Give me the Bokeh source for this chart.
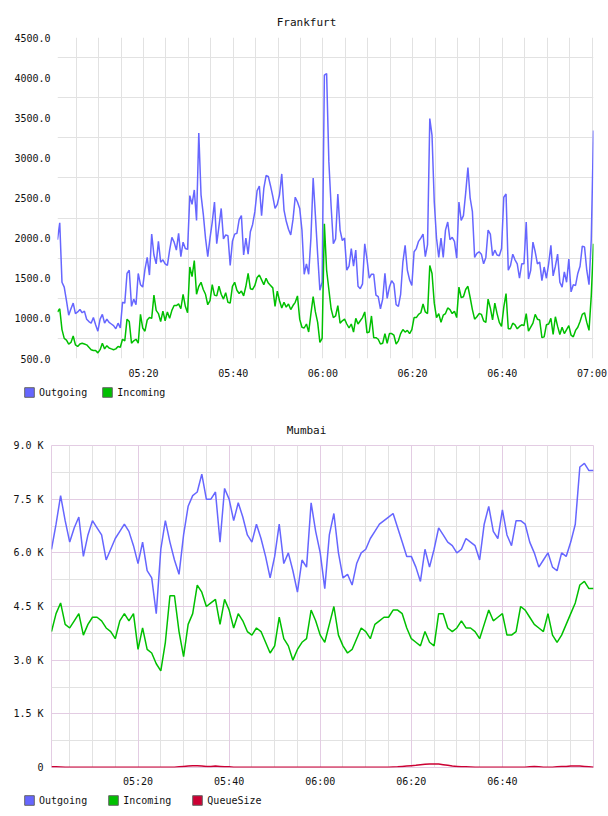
import pandas as pd
from bokeh.plotting import figure
from bokeh.models import (Range1d, FixedTicker, Grid, Legend, LegendItem,
                          DatetimeTickFormatter, NumeralTickFormatter,
                          CustomJSTickFormatter, ColumnDataSource)
from bokeh.embed import file_html
from bokeh.resources import INLINE

FONT = "DejaVu Sans Mono"
DAY = "2015-01-01 "

# ---------------- data ----------------
fra_start = DAY + "05:00:50"   # samples every 30 s
fra_outgoing = [
    1980, 2190, 1450, 1390, 1220, 1040, 1120, 1190, 1060, 1080,
    1110, 1070, 1090, 990, 960, 940, 1010, 920, 840, 990,
    1050, 940, 990, 950, 930, 910, 870, 940, 880, 1200,
    1190, 1560, 1600, 1150, 1240, 1170, 1560, 1420, 1390, 1610,
    1760, 1540, 2050, 1790, 1680, 1960, 1700, 1730, 1680, 1660,
    1850, 2010, 1950, 1850, 2060, 1770, 1950, 1870, 1860, 2530,
    2420, 2600, 2220, 3310, 2540, 2300, 2000, 1770, 2000, 2200,
    2450, 1930, 2150, 2370, 1990, 2040, 2030, 1660, 1960, 2050,
    2060, 2230, 2280, 1790, 2000, 1800, 2080, 2170, 2330, 2590,
    2650, 2280, 2620, 2780, 2770, 2650, 2520, 2370, 2420, 2540,
    2800, 2350, 2210, 2110, 2040, 2230, 2510, 2450, 2370, 2100,
    1550, 1680, 1550, 2000, 2750, 2280, 1800, 1350, 1450,
    4030, 4050, 2950, 2400, 1930, 1990, 2550, 2100, 1970, 2000,
    1600, 1650, 1870, 1650, 1850, 1400, 1370, 1430, 1930, 1740,
    1500, 1550, 1550, 1290, 1270, 1120, 1240, 1560, 1250, 1390,
    1470, 1430, 1170, 1150, 1300, 1700, 1910, 1600, 1480, 1410,
    1830, 1870, 1960, 2000, 2050, 1770, 1920, 3490, 3280, 2450,
    2000, 1760, 2000, 1760, 2100, 2200, 1980, 2010, 1960, 1750,
    2450, 2220, 2280, 2560, 2880, 2500, 2330, 1760, 1810, 1830,
    1800, 1680, 1760, 2100, 2050, 1780, 1850, 1790, 1780, 1870,
    2510, 2550, 1600, 1660, 1800, 1730, 1680, 1500, 1680, 1680,
    2200, 1490, 1600, 1950, 1830, 1680, 1700, 1470, 1640, 1500,
    1680, 1910, 1530, 1650, 1800, 1450, 1390, 1580, 1450, 1740,
    1330, 1420, 1410, 1560, 1650, 1900, 1890, 1600, 1420, 1980,
    3340,
]
fra_incoming = [
    1080, 1120, 860, 750, 730, 680, 700, 780, 670, 650,
    680, 690, 680, 670, 640, 610, 600, 600, 570, 610,
    690, 620, 660, 630, 620, 610, 620, 650, 640, 740,
    720, 990, 960, 690, 720, 740, 690, 1050, 880, 840,
    980, 1010, 1000, 1290, 1100, 1060, 960, 1090, 970, 1080,
    1000, 1100, 1160, 1160, 1180, 1120, 1300, 1150, 1070, 1640,
    1520, 1720, 1300, 1400, 1450, 1360, 1300, 1170, 1220, 1420,
    1290, 1280, 1400, 1300, 1240, 1320, 1200, 1190, 1400, 1450,
    1350, 1310, 1340, 1280, 1400, 1560, 1370, 1360, 1410, 1510,
    1540, 1480, 1420, 1500, 1440, 1410, 1380, 1150, 1340, 1220,
    1130, 1200, 1140, 1180, 1110, 1160, 1200, 1280, 990, 890,
    880, 930, 830, 1060, 1270, 1080, 950, 700, 750,
    2180, 1600, 1360, 1120, 1010, 1030, 1160, 940, 970, 990,
    930, 880, 930, 830, 1000, 930, 970, 1010, 1080, 820,
    830, 1030, 760, 760, 740, 680, 690, 810, 690, 810,
    810, 790, 680, 720, 810, 860, 830, 850, 810, 860,
    1010, 1010, 1050, 1070, 1180, 1080, 1060, 1660, 1560, 1190,
    1010, 1060, 950, 1040, 1060, 1130, 1110, 1060, 1090, 1010,
    1390, 1260, 1270, 1360, 1400, 1260, 1110, 990, 1020, 1060,
    1050, 970, 950, 1240, 1130, 980, 1190, 1060, 950, 900,
    1140, 1310, 870, 870, 940, 920, 870, 900, 920, 910,
    1060, 840, 890, 940, 1050, 990, 980, 760, 770, 920,
    930, 1000, 800, 1020, 900, 800, 890, 810, 860, 910,
    790, 770, 850, 890, 960, 1050, 1070, 950, 850, 1280,
    1930,
]

mum_start = DAY + "05:01:00"   # samples every minute
mum_outgoing = [
    6100, 6800, 7600, 6900, 6300, 6700, 7000, 5900, 6500, 6900,
    6700, 6500, 5800, 6100, 6400, 6600, 6800, 6600, 6200, 5700,
    6300, 5500, 5300, 4300, 6100, 6900, 6300, 5800, 5400, 6500,
    7300, 7600, 7700, 8200, 7500, 7500, 7700, 6300, 7800, 7500,
    6900, 7400, 7000, 6500, 6300, 6800, 6400, 5900, 5300, 5900,
    6800, 5700, 6000, 5500, 4900, 5800, 5600, 7400, 6600, 6000,
    5000, 6500, 7100, 6000, 5300, 5400, 5100, 5700, 6000, 6100,
    6400, 6600, 6800, 6900, 7000, 7100, 6700, 6300, 5900, 5900,
    5600, 5200, 6100, 5600, 6100, 6700, 6500, 6300, 6200, 6000,
    6100, 6400, 6300, 6200, 5800, 6800, 7300, 6600, 6400, 7200,
    6500, 6200, 6900, 6900, 6800, 6300, 6000, 5600, 5800, 6000,
    5600, 5500, 6000, 5900, 6300, 6800, 8400, 8500, 8300, 8300,
]
mum_incoming = [
    3800, 4300, 4600, 4000, 3900, 4100, 4300, 3700, 4000, 4200,
    4200, 4100, 3900, 3800, 3600, 4100, 4300, 4100, 4300, 3300,
    3900, 3300, 3200, 2900, 2700, 3500, 4800, 4800, 3800, 3100,
    4000, 4300, 5100, 4900, 4500, 4600, 4700, 4000, 4700, 4400,
    3900, 4300, 4100, 3800, 3700, 3900, 3800, 3500, 3200, 3400,
    4200, 3600, 3400, 3000, 3300, 3500, 3600, 4400, 4100, 3700,
    3500, 4000, 4500, 3700, 3400, 3200, 3300, 3600, 3900, 3800,
    3600, 4000, 4100, 4200, 4200, 4400, 4400, 4300, 3900, 3600,
    3500, 3400, 3800, 3500, 3400, 4300, 4300, 3900, 3800, 3900,
    4100, 3900, 3900, 3800, 3600, 4000, 4400, 4100, 4200, 4300,
    3700, 3700, 3800, 4500, 4400, 4200, 4000, 3900, 3800, 4300,
    3700, 3500, 3700, 4000, 4300, 4600, 5100, 5200, 5000, 5000,
]
mum_queue = [
    20, 20, 15, 10, 10, 10, 5, 5, 10, 10,
    5, 5, 5, 10, 10, 5, 5, 5, 10, 5,
    5, 5, 10, 10, 5, 5, 10, 10, 20, 30,
    40, 50, 50, 40, 30, 30, 40, 30, 20, 20,
    10, 10, 5, 5, 5, 5, 5, 5, 5, 5,
    5, 5, 5, 5, 5, 5, 5, 5, 5, 5,
    5, 5, 5, 5, 5, 5, 5, 5, 5, 5,
    5, 5, 5, 10, 10, 15, 20, 30, 40, 50,
    60, 75, 90, 100, 100, 95, 80, 60, 40, 30,
    20, 20, 15, 10, 10, 5, 5, 5, 5, 5,
    5, 5, 5, 5, 10, 20, 30, 20, 10, 10,
    10, 20, 30, 30, 40, 40, 40, 30, 20, 10,
]

fra_yticks = [500, 1000, 1500, 2000, 2500, 3000, 3500, 4000, 4500]
mum_yticks = [0, 1500, 3000, 4500, 6000, 7500, 9000]
fra_time_labels = ["05:20", "05:40", "06:00", "06:20", "06:40", "07:00"]
mum_time_labels = ["05:20", "05:40", "06:00", "06:20", "06:40"]

C_OUT = "#6666ff"
C_IN = "#00c000"
C_Q = "#cc0033"
GRID = "#e2e2e2"
PURPLE = "#e3cce3"


def ms(label):
    return pd.Timestamp(DAY + label).value / 1e6


def minute_grid(step_min, first, last):
    return [t.value / 1e6 for t in pd.date_range(DAY + first, DAY + last, freq=f"{step_min}min")]


def style_axes(p, standoff_x, standoff_y):
    for ax in (p.xaxis, p.yaxis):
        ax.axis_line_color = None
        ax.major_tick_line_color = None
        ax.minor_tick_line_color = None
        ax.major_tick_out = 0
        ax.major_tick_in = 0
        ax.major_label_text_font = FONT
        ax.major_label_text_font_size = "10px"
        ax.major_label_text_color = "#111111"
    p.xaxis.major_label_standoff = standoff_x
    p.yaxis.major_label_standoff = standoff_y


def style_title(p, text, frame_left):
    p.title.text = text
    p.title.align = "left"
    p.title.text_font = FONT
    p.title.text_font_size = "11px"
    p.title.text_font_style = "normal"
    p.title.text_color = "#111111"
    p.title.standoff = 17
    width = len(text) * 0.602 * 11
    p.title.offset = 306 - frame_left - width / 2


def legend_strip(entries, height, y0, x0, spacing):
    q = figure(width=608, height=height, output_backend="svg", toolbar_location=None,
               min_border=0, x_axis_location=None, y_axis_location=None,
               x_range=Range1d(0, 1), y_range=Range1d(0, 1))
    q.outline_line_color = None
    q.grid.visible = False
    items = []
    for name, col in entries:
        # swatch-only renderer: its one box lies outside the visible range
        r = q.quad(left=[5], right=[6], top=[6], bottom=[5], fill_color=col,
                   line_color="#666666", line_width=1)
        items.append(LegendItem(label=name, renderers=[r]))
    lg = Legend(items=items, orientation="horizontal", location=(x0, y0),
                border_line_color=None, background_fill_alpha=0,
                padding=0, margin=0, glyph_width=12, glyph_height=12,
                label_height=12, label_standoff=4, spacing=spacing,
                label_text_font=FONT, label_text_font_size="10px",
                label_text_color="#111111")
    q.add_layout(lg)
    return q


time_fmt = DatetimeTickFormatter(seconds="%H:%M", minsec="%H:%M", minutes="%H:%M",
                                 hourmin="%H:%M", hours="%H:%M")

# ---------------- Frankfurt ----------------
fra_t = pd.date_range(fra_start, periods=len(fra_outgoing), freq="30s")
src1 = ColumnDataSource(dict(t=fra_t, out=fra_outgoing, inc=fra_incoming))
p1 = figure(width=608, height=382, x_axis_type="datetime", output_backend="svg",
            toolbar_location=None, min_border_left=57, min_border_right=15,
            min_border_top=37, min_border_bottom=24,
            x_range=Range1d(fra_t[0], fra_t[-1]), y_range=Range1d(500, 4500))
p1.outline_line_color = None
p1.xaxis.ticker = FixedTicker(ticks=[ms(s) for s in fra_time_labels])
p1.xaxis.formatter = time_fmt
p1.yaxis.ticker = FixedTicker(ticks=fra_yticks)
p1.yaxis.formatter = NumeralTickFormatter(format="0.0")
p1.xgrid.ticker = FixedTicker(ticks=minute_grid(5, "05:05", "07:00"))
p1.ygrid.ticker = FixedTicker(ticks=[v + 250 for v in fra_yticks[:-1]])
p1.grid.grid_line_color = GRID
style_axes(p1, 9, 7)
style_title(p1, "Frankfurt", 57)
p1.line("t", "out", source=src1, color=C_OUT, line_width=1.5)
p1.line("t", "inc", source=src1, color=C_IN, line_width=1.5)
leg1 = legend_strip([("Outgoing", C_OUT), ("Incoming", C_IN)], 26, 10, 23, 14)

# ---------------- Mumbai ----------------
mum_t = pd.date_range(mum_start, periods=len(mum_outgoing), freq="1min")
src2 = ColumnDataSource(dict(t=mum_t, out=mum_outgoing, inc=mum_incoming, q=mum_queue))
p2 = figure(width=608, height=383, x_axis_type="datetime", output_backend="svg",
            toolbar_location=None, min_border_left=51, min_border_right=15,
            min_border_top=37, min_border_bottom=24,
            x_range=Range1d(mum_t[0], mum_t[-1]), y_range=Range1d(0, 9000))
p2.outline_line_color = PURPLE
p2.outline_line_width = 1
major_x = [ms(s) for s in mum_time_labels]
p2.xaxis.ticker = FixedTicker(ticks=major_x)
p2.xaxis.formatter = time_fmt
p2.yaxis.ticker = FixedTicker(ticks=mum_yticks)
p2.yaxis.formatter = CustomJSTickFormatter(
    code="return tick == 0 ? '0' : (tick / 1000).toFixed(1) + ' K';")
p2.xgrid.ticker = FixedTicker(ticks=[t for t in minute_grid(5, "05:05", "06:55") if t not in major_x])
p2.ygrid.ticker = FixedTicker(ticks=[v + 750 for v in mum_yticks[:-1]])
p2.grid.grid_line_color = GRID
p2.add_layout(Grid(dimension=0, ticker=FixedTicker(ticks=major_x), grid_line_color=PURPLE))
p2.add_layout(Grid(dimension=1, ticker=FixedTicker(ticks=mum_yticks[1:-1]), grid_line_color=PURPLE))
style_axes(p2, 8, 8)
style_title(p2, "Mumbai", 51)
p2.line("t", "out", source=src2, color=C_OUT, line_width=1.5)
p2.line("t", "inc", source=src2, color=C_IN, line_width=1.5)
p2.line("t", "q", source=src2, color=C_Q, line_width=1.5)
leg2 = legend_strip([("Outgoing", C_OUT), ("Incoming", C_IN), ("QueueSize", C_Q)], 25, 10, 23, 20)

open("out.html", "w").write(file_html([p1, leg1, p2, leg2], INLINE))
